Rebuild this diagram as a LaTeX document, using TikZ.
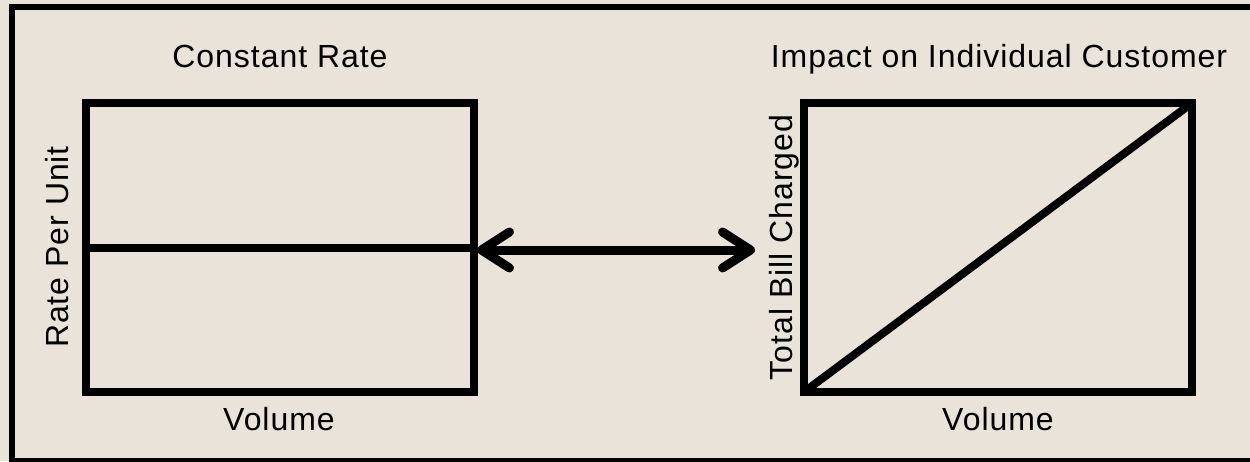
\documentclass[tikz,border=0pt]{standalone}
\usepackage{fontspec}
\setmainfont[LetterSpace=3]{Liberation Sans}
\usetikzlibrary{arrows.meta}
\definecolor{bgbeige}{RGB}{233,227,217}
\tikzset{
  chartbox/.style={draw=black, line width=8pt, rectangle, inner sep=0pt, outer sep=0pt, minimum width=388pt, minimum height=289pt},
  plotline/.style={draw=black, line width=8pt},
  lbl/.style={font=\fontsize{32pt}{36pt}\selectfont, inner sep=0pt, anchor=base, text=black},
  barb/.style={Straight Barb[length=28pt,width=36pt,line cap=round,line join=round]},
  dblarrow/.style={line width=9pt, {Straight Barb[length=28pt,width=36pt,line cap=round,line join=round]}-{Straight Barb[length=28pt,width=36pt,line cap=round,line join=round]}}
}
\begin{document}
\begin{tikzpicture}[x=1pt,y=-1pt]
\useasboundingbox (0,0) rectangle (1250,461);
\fill[bgbeige] (0,0) rectangle (1250,461);
\draw[line width=6pt] (12,7) rectangle (1256,461);
\node[chartbox] (lbox) at (279.5,247.5) {};
\node[chartbox] (rbox) at (998,247.5) {};
\draw[plotline] (lbox.west) -- (lbox.east);
\draw[plotline] (rbox.south west) -- (rbox.north east);
\coordinate (atip) at (755,250);
\coordinate (ltip) at (477,250);
\draw[dblarrow] (ltip) -- (atip);
\node[lbl] (ltitle) at (280,67) {Constant Rate};
\node[lbl] (rtitle) at (999,67) {Impact on Individual Customer};
\node[lbl] (lxlab) at (279,430) {Volume};
\node[lbl] (rxlab) at (998,430) {Volume};
\node[lbl, rotate=90] (lylab) at (68,247) {Rate Per Unit};
\node[lbl, rotate=90] (rylab) at (792,247.5) {Total Bill Charged};
\end{tikzpicture}
\end{document}
